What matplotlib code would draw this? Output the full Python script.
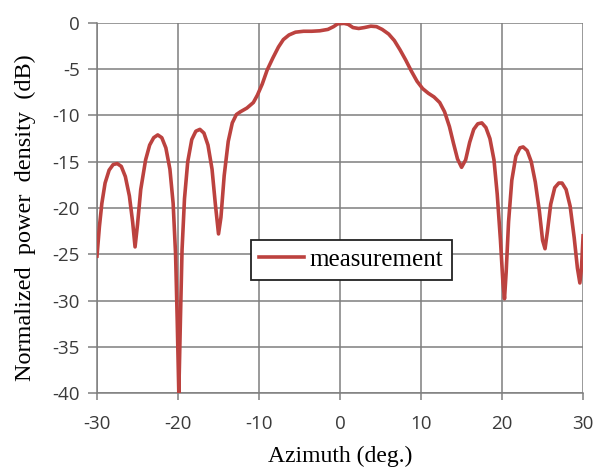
import matplotlib.pyplot as plt

plt.rcParams["axes.unicode_minus"] = False

# azimuth (deg.) and normalized power density (dB)
azimuth = [
    -30.0, -29.7, -29.4, -29.0, -28.5, -28.0, -27.5, -27.0, -26.5, -26.0,
    -25.6, -25.3, -25.0, -24.6, -24.0, -23.5, -23.0, -22.5, -22.0, -21.5,
    -21.0, -20.6, -20.3, -20.1, -19.9, -19.7, -19.5, -19.2, -18.8, -18.3,
    -17.8, -17.3, -16.8, -16.3, -15.8, -15.4, -15.0, -14.7, -14.3, -13.8,
    -13.3, -12.8, -12.3, -11.5, -10.7, -10.2, -9.6, -9.0, -8.3, -7.6,
    -7.0, -6.3, -5.5, -4.5, -3.5, -2.5, -1.5, -0.8, -0.3, 0.5,
    1.0, 1.6, 2.3, 3.0, 3.8, 4.5, 5.2, 6.0, 6.7, 7.4,
    8.1, 8.8, 9.5, 10.2, 10.9, 11.6, 12.3, 12.9, 13.5, 14.0,
    14.5, 15.0, 15.5, 16.0, 16.5, 17.0, 17.5, 18.0, 18.5, 19.0,
    19.4, 19.8, 20.1, 20.3, 20.5, 20.8, 21.2, 21.7, 22.2, 22.6,
    23.1, 23.6, 24.1, 24.6, 25.0, 25.3, 25.6, 26.0, 26.5, 27.0,
    27.4, 27.9, 28.4, 28.9, 29.3, 29.6, 29.8, 30.0,
]
power = [
    -25.2, -22.0, -19.5, -17.3, -15.9, -15.3, -15.2, -15.5, -16.6, -18.7,
    -21.5, -24.2, -21.8, -18.0, -14.8, -13.2, -12.4, -12.1, -12.4, -13.5,
    -15.8, -19.5, -25.0, -32.0, -40.0, -32.0, -24.5, -19.0, -15.0, -12.6,
    -11.7, -11.5, -11.9, -13.2, -15.8, -19.5, -22.8, -21.0, -16.5, -12.8,
    -10.8, -9.9, -9.6, -9.2, -8.6, -7.8, -6.6, -5.1, -3.8, -2.6,
    -1.8, -1.3, -1.0, -0.9, -0.9, -0.85, -0.7, -0.4, -0.1, -0.05,
    -0.15, -0.5, -0.6, -0.5, -0.35, -0.4, -0.7, -1.2, -1.9, -2.9,
    -4.0, -5.2, -6.3, -7.1, -7.6, -8.0, -8.6, -9.6, -11.2, -13.0,
    -14.7, -15.6, -14.8, -12.9, -11.5, -10.9, -10.8, -11.3, -12.5, -14.8,
    -18.5, -23.5, -28.0, -29.8, -27.0, -21.5, -17.0, -14.4, -13.5, -13.4,
    -13.8, -15.0, -17.2, -20.3, -23.5, -24.4, -22.5, -19.6, -17.8, -17.3,
    -17.3, -18.0, -19.8, -23.2, -26.5, -28.1, -26.5, -23.0,
]

xticks = [-30, -20, -10, 0, 10, 20, 30]
yticks = [0, -5, -10, -15, -20, -25, -30, -35, -40]

fig = plt.figure(figsize=(5.95, 4.68), dpi=100)
ax = fig.add_axes([0.163, 0.160, 0.817, 0.791])

ax.plot(azimuth, power, color="#bc423f", lw=2.6, label="measurement", zorder=3)

ax.set_xlim(-30, 30)
ax.set_ylim(-40, 0)
ax.set_xticks(xticks)
ax.set_yticks(yticks)
ax.grid(True, color="#7f7f7f", lw=1.1)
ax.set_axisbelow(True)

for s in ["top", "right"]:
    ax.spines[s].set_visible(False)
for s in ["left", "bottom"]:
    ax.spines[s].set_color("#7f7f7f")
    ax.spines[s].set_linewidth(1.1)

ax.tick_params(colors="#7f7f7f", width=1.1, labelcolor="#3a3a3a",
               labelsize=13.5)
ax.tick_params(axis="x", length=5, pad=11)
ax.tick_params(axis="y", length=6.5, pad=6)
for lab in ax.get_xticklabels() + ax.get_yticklabels():
    lab.set_family("Open Sans")

ax.set_xlabel("Azimuth (deg.)", family="Liberation Serif", fontsize=17,
              labelpad=9)
ax.set_ylabel("Normalized  power  density  (dB)", family="Liberation Serif",
              fontsize=17.5)
ax.yaxis.set_label_coords(-0.126, 0.475)

leg = ax.legend(loc="center", bbox_to_anchor=(0.523, 0.36), fancybox=False,
                framealpha=1, edgecolor="#222222", handlelength=1.8,
                prop={"family": "Liberation Serif", "size": 18},
                borderpad=0.35, handletextpad=0.2, borderaxespad=0)
leg.get_frame().set_linewidth(1.3)

fig.savefig("out.png", dpi=100)
